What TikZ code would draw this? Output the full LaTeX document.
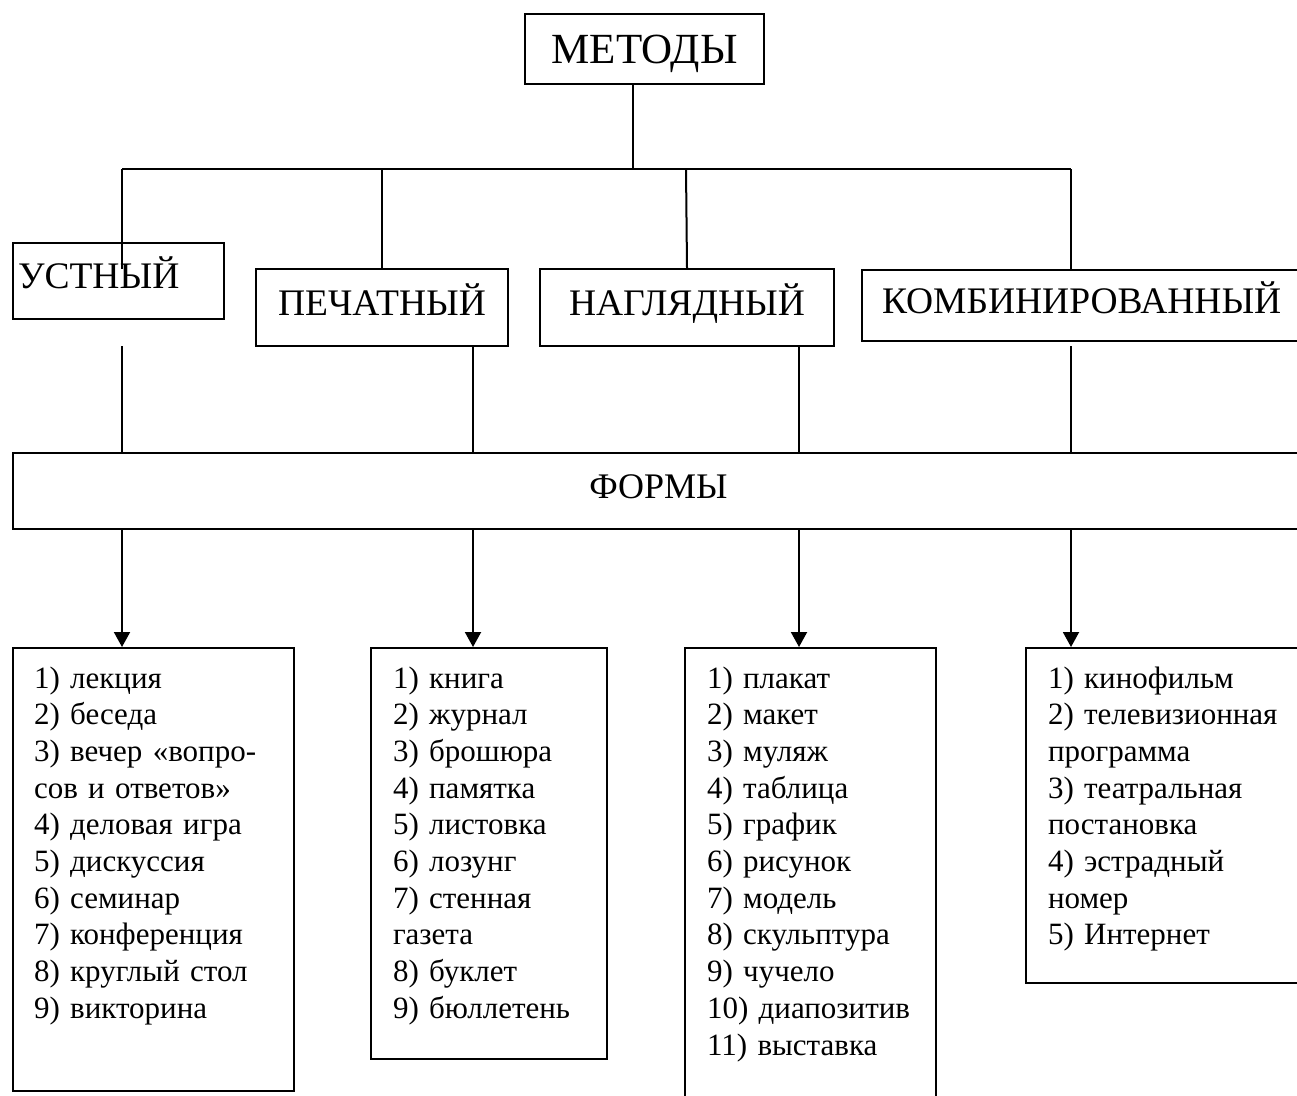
\documentclass[tikz,border=0pt]{standalone}
\usepackage{fontspec}
\setmainfont{Liberation Serif}
\usetikzlibrary{arrows.meta}

\newcommand{\headfont}{\fontsize{43}{50}\selectfont}
\newcommand{\kindfont}{\fontsize{37.5}{44}\selectfont}
\newcommand{\formfont}{\fontsize{36}{42}\selectfont}
\newcommand{\itemfont}{\fontsize{31}{36.7}\selectfont}

\begin{document}
\begin{tikzpicture}[
            x=1pt, y=-1pt,
            line width=2pt,
            kindbox/.style={draw, rectangle, inner sep=0pt, anchor=north west,
                            font=\kindfont, text height=26pt, text depth=11pt},
            listbox/.style={draw, rectangle, inner sep=0pt, anchor=north west},
            listtext/.style={anchor=base west, align=left, inner sep=0pt,
                             text width=260pt, font=\itemfont},
            tofill/.style={-{Triangle[length=15pt, width=16pt]}}
            ]
        \clip (0,0) rectangle (1297,1095);

        % top
        \node[kindbox, font=\headfont, text height=30pt, text depth=2pt,
              minimum width=239pt, minimum height=70pt] (methods) at (524,13) {МЕТОДЫ};

        % kinds of methods
        \node[kindbox, minimum width=211pt, minimum height=76pt, text width=201pt,
              inner xsep=5pt, align=left] (ustny) at (12,242) {УСТНЫЙ};
        \node[kindbox, minimum width=252pt, minimum height=77pt] (pechat) at (255,268) {ПЕЧАТНЫЙ};
        \node[kindbox, minimum width=294pt, minimum height=77pt] (nagl) at (539,268) {НАГЛЯДНЫЙ};
        \node[kindbox, minimum width=460pt, minimum height=71pt, text width=420pt,
              inner xsep=20pt, align=left, text depth=10pt] (komb) at (861,269) {КОМБИНИРОВАННЫЙ};

        \node[kindbox, font=\formfont, minimum width=1291pt, minimum height=76pt] (forms) at (12,452) {ФОРМЫ};

        % lists of forms
        \node[listbox, minimum width=281pt, minimum height=443pt] (ustnylist) at (12,647) {};
        \node[listbox, minimum width=236pt, minimum height=411pt] (pechatlist) at (370,647) {};
        \node[listbox, minimum width=251pt, minimum height=470pt] (nagllist) at (684,647) {};
        \node[listbox, minimum width=300pt, minimum height=335pt] (komblist) at (1025,647) {};

        \node[listtext] (ustnyitems) at (33,688) {1) лекция\\2) беседа\\3) вечер «вопро-\\сов и ответов»\\4) деловая игра\\5) дискуссия\\6) семинар\\7) конференция\\8) круглый стол\\9) викторина};
        \node[listtext] (pechatitems) at (392,688) {1) книга\\2) журнал\\3) брошюра\\4) памятка\\5) листовка\\6) лозунг\\7) стенная\\газета\\8) буклет\\9) бюллетень};
        \node[listtext] (naglitems) at (706,688) {1) плакат\\2) макет\\3) муляж\\4) таблица\\5) график\\6) рисунок\\7) модель\\8) скульптура\\9) чучело\\10) диапозитив\\11) выставка};
        \node[listtext] (kombitems) at (1047,688) {1) кинофильм\\2) телевизионная\\программа\\3) театральная\\постановка\\4) эстрадный\\номер\\5) Интернет};

        % branching from the top
        \coordinate (busL) at (122,169);
        \coordinate (busR) at (1071,169);
        \coordinate (hub) at (633,169);
        \coordinate (ustnyend) at (122,269);
        \draw (hub |- methods.south) -- (hub);
        \draw (busL) -- (busR);
        \draw (busL) -- (ustnyend);
        \draw (pechat.north |- busL) -- (pechat.north);
        \draw (nagl.north |- busL) ++(-1,0) -- (nagl.north);
        \draw (busR) -- (busR |- komb.north);

        % down to the forms
        \coordinate (col1) at (122,346);
        \coordinate (col2) at (473,345);
        \coordinate (col3) at (799,346);
        \coordinate (col4) at (1071,346);
        \draw (col1) -- (col1 |- forms.north);
        \draw (col2) -- (col2 |- forms.north);
        \draw (col3) -- (col3 |- forms.north);
        \draw (col4) -- (col4 |- forms.north);
        \draw[tofill] (col1 |- forms.south) -- (col1 |- ustnylist.north);
        \draw[tofill] (col2 |- forms.south) -- (col2 |- pechatlist.north);
        \draw[tofill] (col3 |- forms.south) -- (col3 |- nagllist.north);
        \draw[tofill] (col4 |- forms.south) -- (col4 |- komblist.north);
\end{tikzpicture}
\end{document}
